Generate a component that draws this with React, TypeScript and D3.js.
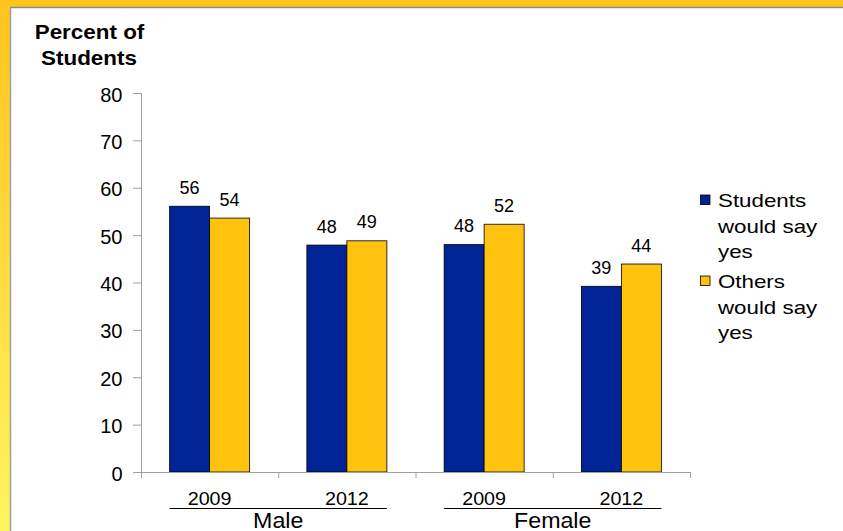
import React from "react";
import * as d3 from "d3";

const groups = ["Male", "Female"];
const years = ["2009", "2012"];
const categories = ["Male 2009", "Male 2012", "Female 2009", "Female 2012"];
const seriesNames = ["Students would say yes", "Others would say yes"];
const studentsYes = [56.1, 47.9, 48.0, 39.2];
const othersYes = [53.6, 48.8, 52.3, 43.9];
const labelsStudents = ["56", "48", "48", "39"];
const labelsOthers = ["54", "49", "52", "44"];
const yTicks = [0, 10, 20, 30, 40, 50, 60, 70, 80];
const legendLines = [
  ["Students", "would say", "yes"],
  ["Others", "would say", "yes"],
];
const colors = ["#002395", "#FFC20E"];

const W = 843;
const H = 531;
const left = 141;
const right = 690;
const top = 93;
const bottom = 472;
const font = "'Liberation Sans', Arial, sans-serif";

function SText(props: {
  x: number;
  y: number;
  sx?: number;
  size: number;
  anchor?: "start" | "middle" | "end";
  bold?: boolean;
  children: React.ReactNode;
}) {
  const { x, y, sx = 1, size, anchor = "start", bold, children } = props;
  return (
    <text
      transform={`translate(${x},${y}) scale(${sx},1)`}
      textAnchor={anchor}
      fontSize={size}
      fontWeight={bold ? "bold" : "normal"}
      fill="#000"
    >
      {children}
    </text>
  );
}

export default function App() {
  const x = d3.scaleBand<string>().domain(categories).range([left, right]).padding(0);
  const bw = 40;
  const inner = d3
    .scaleBand<string>()
    .domain(seriesNames)
    .range([x.bandwidth() / 2 - bw, x.bandwidth() / 2 + bw]);
  const y = d3.scaleLinear().domain([0, 80]).range([bottom, top]);
  const series = [studentsYes, othersYes];
  const labels = [labelsStudents, labelsOthers];
  const axisColor = "#A0A0A0";

  return (
    <svg
      width={W}
      height={H}
      style={{ position: "absolute", left: 0, top: 0 }}
      fontFamily={font}
    >
      <defs>
        <linearGradient id="leftGrad" x1="0" y1="0" x2="0" y2="1">
          <stop offset="0" stopColor="#FFC41E" />
          <stop offset="1" stopColor="#FFF460" />
        </linearGradient>
      </defs>
      <rect x={0} y={0} width={W} height={H} fill="#fff" />
      <rect x={0} y={0} width={10} height={H} fill="url(#leftGrad)" />
      <rect x={0} y={0} width={W} height={7} fill="#FFC41E" />
      <line x1={10.5} x2={10.5} y1={7} y2={H} stroke="#A0A0A0" strokeWidth={1.5} />
      <line x1={10} x2={W} y1={7.5} y2={7.5} stroke="#8A8A8A" strokeWidth={1.5} />

      {/* title */}
      <SText x={89.5} y={39} size={19.5} sx={1.15} anchor="middle" bold>
        Percent of
      </SText>
      <SText x={89} y={65} size={19.5} sx={1.15} anchor="middle" bold>
        Students
      </SText>

      {/* y axis */}
      <line x1={left + 0.5} x2={left + 0.5} y1={top} y2={bottom} stroke={axisColor} />
      {yTicks.map((t) => (
        <g key={t}>
          <line x1={left - 8} x2={left} y1={y(t) + 0.5} y2={y(t) + 0.5} stroke={axisColor} />
          <SText x={122.5} y={y(t) + 8.5} size={20} anchor="end">
            {t}
          </SText>
        </g>
      ))}

      {/* bars */}
      {categories.map((c, i) =>
        seriesNames.map((s, j) => {
          const v = series[j][i];
          const bx = (x(c) as number) + (inner(s) as number);
          return (
            <g key={c + s}>
              <rect
                x={bx}
                y={y(v)}
                width={inner.bandwidth()}
                height={bottom - y(v)}
                fill={colors[j]}
                stroke="#000"
                strokeWidth={0.8}
              />
              <SText x={bx + inner.bandwidth() / 2} y={y(v) - 12.5} size={18} anchor="middle">
                {labels[j][i]}
              </SText>
            </g>
          );
        })
      )}

      {/* x axis */}
      <line x1={left} x2={right} y1={bottom + 0.5} y2={bottom + 0.5} stroke={axisColor} />
      {[...categories.map((c) => x(c) as number), right].map((tx, i) => (
        <line key={i} x1={tx + 0.5} x2={tx + 0.5} y1={bottom} y2={bottom + 6} stroke={axisColor} />
      ))}
      {categories.map((c, i) => (
        <SText
          key={c}
          x={(x(c) as number) + x.bandwidth() / 2}
          y={505}
          size={18.6}
          sx={1.06}
          anchor="middle"
        >
          {years[i % years.length]}
        </SText>
      ))}
      {groups.map((g, gi) => {
        const c0 = categories[gi * 2];
        const c1 = categories[gi * 2 + 1];
        const x0 = (x(c0) as number) + (inner(seriesNames[0]) as number);
        const x1 = (x(c1) as number) + (inner(seriesNames[1]) as number) + inner.bandwidth();
        return (
          <g key={g}>
            <line x1={x0} x2={x1} y1={508.5} y2={508.5} stroke="#000" strokeWidth={1} />
            <SText x={(x0 + x1) / 2} y={527.5} size={21.5} sx={1.08} anchor="middle">
              {g}
            </SText>
          </g>
        );
      })}

      {/* legend */}
      {legendLines.map((lines, j) => {
        const base = j === 0 ? 207 : 288;
        return (
          <g key={j}>
            <rect
              x={700.5}
              y={base - 12}
              width={9.5}
              height={9.5}
              fill={colors[j]}
              stroke="#000"
              strokeWidth={0.8}
            />
            {lines.map((t, k) => (
              <SText key={k} x={718} y={base + k * 25.5} size={18.6} sx={1.2}>
                {t}
              </SText>
            ))}
          </g>
        );
      })}
    </svg>
  );
}
